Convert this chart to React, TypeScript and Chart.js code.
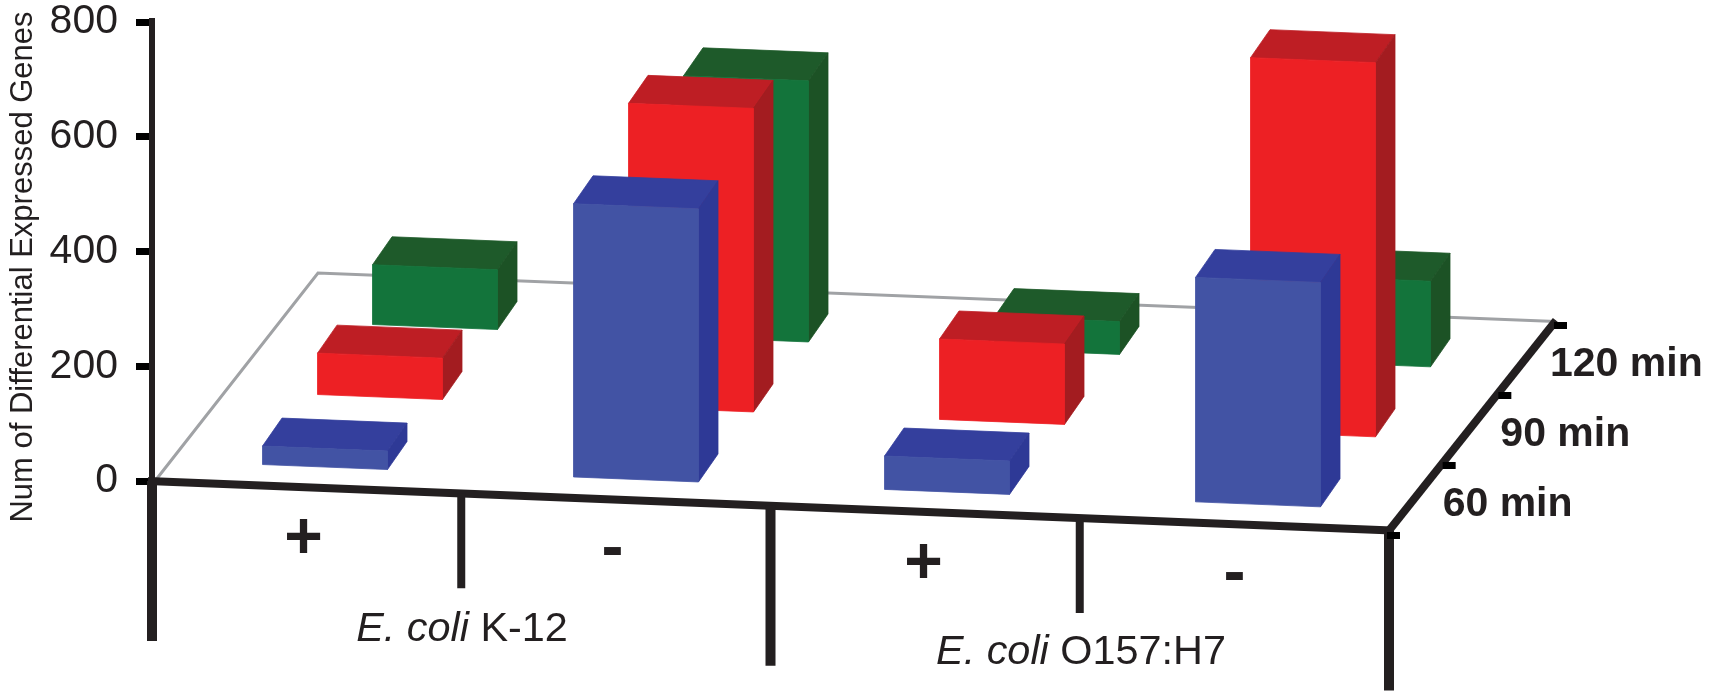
import React, { useEffect, useRef } from "react";
import { Chart, BarController, BarElement, CategoryScale, LinearScale } from "chart.js";

const categories = ["+", "-", "+", "-"];
const genusLabel = "E. coli";
const strains = ["K-12", "O157:H7"];
const depthLabels = ["60 min", "90 min", "120 min"];
const yTicksStep = 200;
const values60 = [33, 477, 59, 392];
const values90 = [73, 530, 141, 653];
const values120 = [105, 456, 58, 150];
const frontColors = ["#4253a4", "#ed2024", "#13743b"];
const topColors = ["#343f9d", "#be1e24", "#1e5a2a"];
const sideColors = ["#2e3996", "#a31c20", "#1c5225"];

const FONT = '"Liberation Sans", Arial, sans-serif';
const INK = "#231f20";
const SLOPE = 0.04;
const BAR_DX = 17.5;
const BAR_DY = -19.7;
const ROW_DX = 55;
const ROW_DY = -70;
const BOX_DX = 19.5;
const BOX_DY = -28;
const FLOOR_SPAN = 1237;
const FLOOR_DEPTH_X = 167;
const FLOOR_DEPTH_Y = -210;

class Bar3DController extends BarController {
  static id = "bar3d";
  static defaults = BarController.defaults;
  static overrides = BarController.overrides;
  draw() {
    const ctx = this.chart.ctx;
    const row = this.index;
    const left = this.chart.chartArea.left;
    const elements = this._cachedMeta.data;
    const project = (x: number, y: number) => [
      x + BAR_DX + row * ROW_DX,
      y + (x - left) * SLOPE + BAR_DY + row * ROW_DY,
    ];
    const fill = (color: string, pts: number[][]) => {
      ctx.fillStyle = color;
      ctx.strokeStyle = color;
      ctx.lineWidth = 0.8;
      ctx.beginPath();
      pts.forEach((p, i) => (i ? ctx.lineTo(p[0], p[1]) : ctx.moveTo(p[0], p[1])));
      ctx.closePath();
      ctx.fill();
      ctx.stroke();
    };
    ctx.save();
    elements.forEach((el: any) => {
      const xl = el.x - el.width / 2;
      const xr = el.x + el.width / 2;
      const tl = project(xl, el.y);
      const tr = project(xr, el.y);
      const br = project(xr, el.base);
      const bl = project(xl, el.base);
      const back = (p: number[]) => [p[0] + BOX_DX, p[1] + BOX_DY];
      fill(topColors[row], [tl, tr, back(tr), back(tl)]);
      fill(sideColors[row], [tr, br, back(br), back(tr)]);
      fill(frontColors[row], [tl, tr, br, bl]);
    });
    ctx.restore();
  }
}

const line = (ctx: any, color: string, width: number, x1: number, y1: number, x2: number, y2: number) => {
  ctx.strokeStyle = color;
  ctx.lineWidth = width;
  ctx.lineCap = "butt";
  ctx.beginPath();
  ctx.moveTo(x1, y1);
  ctx.lineTo(x2, y2);
  ctx.stroke();
};

const floorPlugin = {
  id: "floor",
  beforeDatasetsDraw(chart: any) {
    const ctx = chart.ctx;
    const x0 = chart.chartArea.left;
    const y0 = chart.scales.y.getPixelForValue(0);
    ctx.save();
    ctx.strokeStyle = "#a0a2a5";
    ctx.lineWidth = 3;
    ctx.beginPath();
    ctx.moveTo(x0 + 3, y0);
    ctx.lineTo(x0 + FLOOR_DEPTH_X - 1, y0 + FLOOR_DEPTH_Y + 2);
    ctx.lineTo(x0 + FLOOR_SPAN + FLOOR_DEPTH_X, y0 + FLOOR_SPAN * SLOPE + FLOOR_DEPTH_Y + 1);
    ctx.stroke();
    ctx.restore();
  },
  afterDatasetsDraw(chart: any) {
    const ctx = chart.ctx;
    const x0 = chart.chartArea.left;
    const top = chart.chartArea.top;
    const yS = chart.scales.y;
    const xS = chart.scales.x;
    const y0 = yS.getPixelForValue(0);
    const floorY = (x: number) => y0 + (x - x0) * SLOPE;
    const stepX = FLOOR_SPAN / categories.length;
    ctx.save();

    // upright axis above the floor, then the front edge and its hanging posts
    line(ctx, INK, 6, x0, top - 4, x0, y0);
    line(ctx, INK, 8, x0 - 4, floorY(x0), x0 + FLOOR_SPAN + 3, floorY(x0 + FLOOR_SPAN));
    categories.concat("").forEach((_, i) => {
      const x = x0 + i * stepX;
      const long = i % 2 === 0;
      line(ctx, INK, long ? 10 : 8, x, floorY(x), x, floorY(x) + (long ? 160 : 95));
    });

    // depth edge, ticks and labels
    const rx = x0 + FLOOR_SPAN;
    const ry = floorY(rx);
    line(ctx, INK, 8, rx, ry, rx + FLOOR_DEPTH_X, ry + FLOOR_DEPTH_Y);
    const labelDX = [-2, 0, -6];
    for (let i = 0; i <= depthLabels.length; i++) {
      const f = i / depthLabels.length;
      const tx = rx + FLOOR_DEPTH_X * f;
      const ty = ry + FLOOR_DEPTH_Y * f;
      line(ctx, "#000", 7, tx - 2, ty + 5, tx + 11, ty + 5);
      if (i > 0) {
        ctx.fillStyle = INK;
        ctx.font = `bold 41px ${FONT}`;
        ctx.textAlign = "left";
        ctx.textBaseline = "alphabetic";
        ctx.fillText(depthLabels[i - 1], tx + labelDX[i - 1], ty + 56);
      }
    }

    // + and - labels, centred by ink
    ctx.fillStyle = INK;
    ctx.font = `bold 66px ${FONT}`;
    ctx.textAlign = "center";
    ctx.textBaseline = "alphabetic";
    categories.forEach((label, i) => {
      const x = xS.getPixelForValue(i) - 6 + (i === 0 ? 2 : 0);
      const m = ctx.measureText(label);
      const cy = floorY(x) + 49 + (label === "-" ? 3 : 0);
      ctx.fillText(label, x, cy + (m.actualBoundingBoxAscent - m.actualBoundingBoxDescent) / 2);
    });

    // strain labels, with the genus in italics
    strains.forEach((strain, i) => {
      const cx = xS.getPixelForValue(i * 2 + 0.5) - 1 - i * 3;
      const base = floorY(cx) + 148 + (i ? -2 : 0);
      ctx.textAlign = "left";
      ctx.font = `italic 41.4px ${FONT}`;
      const gw = ctx.measureText(genusLabel + " ").width;
      ctx.font = `41.4px ${FONT}`;
      const sw = ctx.measureText(strain).width;
      const start = cx - (gw + sw) / 2;
      ctx.font = `italic 41.4px ${FONT}`;
      ctx.fillText(genusLabel, start, base);
      ctx.font = `41.4px ${FONT}`;
      ctx.fillText(strain, start + gw, base);
    });

    // value-axis title
    ctx.translate(32, 267);
    ctx.rotate(-Math.PI / 2);
    ctx.font = `31px ${FONT}`;
    ctx.textAlign = "center";
    ctx.fillText("Num of Differential Expressed Genes", 0, 0);
    ctx.restore();
  },
};

Chart.register(Bar3DController, BarElement, CategoryScale, LinearScale, floorPlugin);

export default function App() {
  const ref = useRef<HTMLCanvasElement>(null);
  useEffect(() => {
    const series = [values60, values90, values120];
    const chart = new Chart(ref.current!, {
      type: "bar3d" as any,
      data: {
        labels: categories,
        datasets: series.map((data, i) => ({
          label: depthLabels[i],
          data,
          backgroundColor: frontColors[i],
          barThickness: 125,
          grouped: false,
          clip: false as any,
        })),
      },
      options: {
        responsive: false,
        animation: false,
        layout: { padding: { left: 0, top: 22, right: 317, bottom: 217 } },
        plugins: { legend: { display: false }, tooltip: { enabled: false } },
        scales: {
          x: { type: "category", display: false },
          y: {
            type: "linear",
            min: 0,
            max: 800,
            afterFit: (s: any) => {
              s.width = 152;
              s.paddingTop = 0;
              s.paddingBottom = 0;
            },
            ticks: {
              stepSize: yTicksStep,
              padding: 18,
              color: INK,
              autoSkip: false,
              maxRotation: 0,
              font: { family: FONT, size: 41 },
            },
            grid: {
              drawOnChartArea: false,
              drawTicks: true,
              tickLength: 16,
              tickWidth: 7,
              tickColor: "#000",
            },
            border: { display: true, color: INK, width: 6 },
          },
        },
      } as any,
    });
    return () => chart.destroy();
  }, []);
  return (
    <div style={{ position: "absolute", left: 0, top: 0, width: 1713, height: 698, background: "#fff" }}>
      <canvas ref={ref} width={1713} height={698} style={{ display: "block" }} />
    </div>
  );
}
